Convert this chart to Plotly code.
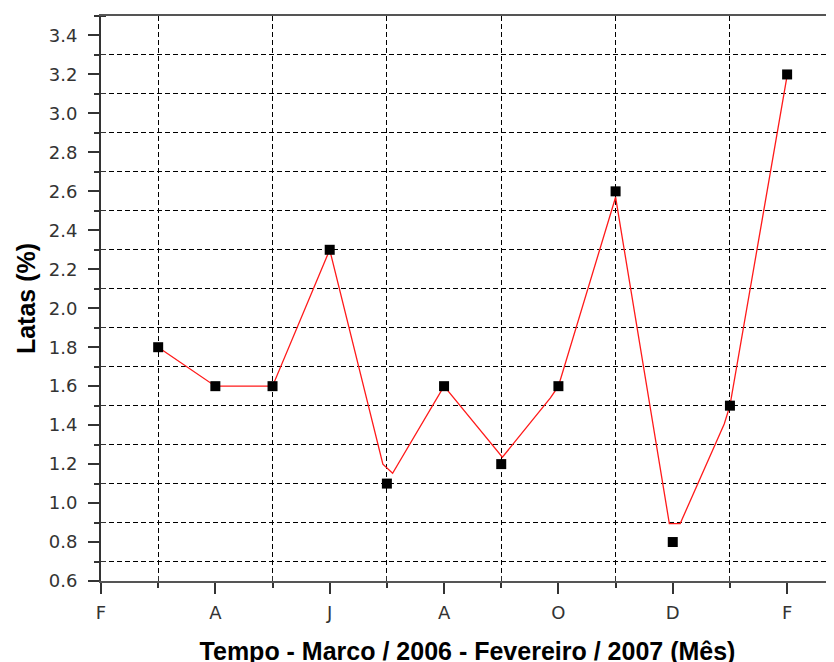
import plotly.graph_objects as go

# Data (month index: Feb/2006 = 0 ... Feb/2007 = 12)
months = [1, 2, 3, 4, 5, 6, 7, 8, 9, 10, 11, 12]
latas = [1.8, 1.6, 1.6, 2.3, 1.1, 1.6, 1.2, 1.6, 2.6, 0.8, 1.5, 3.2]

# Red curve vertices
curve_x = [1, 2, 3, 4, 4.93, 5.10, 6, 7.02, 7.86, 8, 9, 9.94, 10.13, 10.9, 11, 12]
curve_y = [1.8, 1.6, 1.6, 2.3, 1.20, 1.153, 1.6, 1.235, 1.54, 1.6, 2.57, 0.895, 0.895, 1.406, 1.5, 3.194]

tick_vals = [0, 2, 4, 6, 8, 10, 12]
tick_text = ["F", "A", "J", "A", "O", "D", "F"]

fig = go.Figure()
fig.add_trace(go.Scatter(x=curve_x, y=curve_y, mode="lines",
                         line=dict(color="#ff1a1a", width=1.3), hoverinfo="skip"))
fig.add_trace(go.Scatter(x=months, y=latas, mode="markers",
                         marker=dict(symbol="square", size=10, color="black")))

tick_font = dict(family="DejaVu Sans, Verdana, sans-serif", size=18, color="#333333")
title_font = dict(family="Liberation Sans, Arial, sans-serif", size=25, color="black")
dash = "5px,3px"

fig.update_layout(
    width=834, height=662,
    margin=dict(l=93, r=8, t=6, b=89),
    paper_bgcolor="white", plot_bgcolor="white",
    showlegend=False,
    xaxis=dict(
        range=[0, 12.82], tickmode="array", tickvals=tick_vals, ticktext=tick_text,
        ticks="outside", ticklen=11, tickwidth=1.5, tickcolor="#333333",
        showgrid=False, zeroline=False,
        showline=True, linecolor="#555555", linewidth=2, mirror=True,
        tickfont=tick_font, ticklabelstandoff=3,
        title=dict(text="<b>Tempo - Marco / 2006 - Fevereiro / 2007 (Mês)</b>",
                   font=title_font, standoff=21),
        minor=dict(tickmode="linear", tick0=1, dtick=2, ticks="outside", ticklen=5,
                   tickcolor="#333333", showgrid=True, gridcolor="black",
                   gridwidth=1, griddash=dash),
    ),
    xaxis2=dict(
        overlaying="x", matches="x", side="bottom", anchor="y",
        tickmode="array", tickvals=[], showticklabels=False, showgrid=False,
        zeroline=False, showline=False,
        minor=dict(tickmode="linear", tick0=1, dtick=2, ticks="inside", ticklen=5,
                   tickcolor="#333333", showgrid=False),
    ),
    yaxis=dict(
        range=[0.6, 3.5], tickmode="linear", tick0=0.6, dtick=0.2,
        tickformat=".1f",
        ticks="outside", ticklen=11, tickwidth=1.5, tickcolor="#333333",
        showgrid=False, zeroline=False,
        showline=True, linecolor="#333333", linewidth=2,
        tickfont=tick_font, ticklabelstandoff=7,
        title=dict(text="<b>Latas (%)</b>", font=title_font, standoff=6),
        minor=dict(tickmode="linear", tick0=0.7, dtick=0.2, ticks="outside", ticklen=5,
                   tickcolor="#333333", showgrid=True, gridcolor="black",
                   gridwidth=1, griddash=dash),
    ),
    yaxis2=dict(
        overlaying="y", matches="y", side="left", anchor="x",
        tickmode="array", tickvals=[], showticklabels=False, showgrid=False,
        zeroline=False, showline=False,
        minor=dict(tickmode="linear", tick0=0.7, dtick=0.2, ticks="inside", ticklen=5,
                   tickcolor="#333333", showgrid=False),
    ),
)
# invisible trace to activate the overlay axes that draw the inward half of minor ticks
fig.add_trace(go.Scatter(x=[None], y=[None], xaxis="x2", yaxis="y2",
                         mode="lines", hoverinfo="skip", showlegend=False))

fig.write_html("out.html")
